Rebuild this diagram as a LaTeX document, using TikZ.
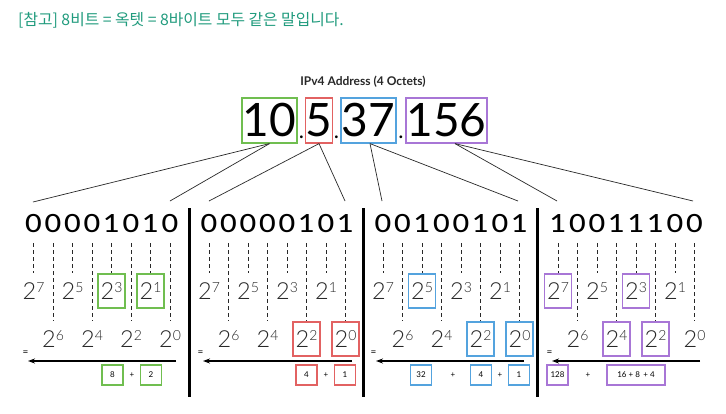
\documentclass[tikz,border=0pt]{standalone}
\usepackage{fontspec}
\setmainfont{Lato}
\newfontfamily\kr{Noto Sans CJK KR}
\newfontfamily\latolight{Lato Light}
\newfontfamily\latomed{Lato Medium}
\usetikzlibrary{arrows.meta}
\definecolor{cg}{RGB}{112,190,80}
\definecolor{cr}{RGB}{226,98,98}
\definecolor{cb}{RGB}{84,163,222}
\definecolor{cp}{RGB}{168,118,214}
\definecolor{teal}{RGB}{32,155,125}
\definecolor{ink}{RGB}{40,40,40}
\newcommand\pw[1]{{\latolight\fontsize{23.5}{24}\selectfont 2\raisebox{7pt}{\fontsize{14}{14}\selectfont #1}}}
\newcommand\wide[1]{\scalebox{1.15}[1]{#1}}
\tikzset{
  addr/.style={inner sep=0pt, minimum height=45pt, line width=1.2pt, font=\fontsize{46}{46}\selectfont},
  dotnode/.style={inner sep=0pt, anchor=base, font=\fontsize{22}{22}\selectfont},
  bit/.style={inner sep=0pt, font=\latomed\fontsize{25}{25}\selectfont},
  pow/.style={inner sep=0pt, minimum width=27pt, minimum height=34pt, line width=1.2pt, text=ink},
  dashline/.style={draw=ink, line width=0.8pt, dash pattern=on 4pt off 3pt},
  conn/.style={draw=ink, line width=0.7pt},
  sepline/.style={draw=black, line width=3pt},
  arr/.style={draw=black, line width=1.5pt, -{Stealth[length=7pt,width=5pt]}},
  eqs/.style={inner sep=0pt, font=\fontsize{10}{10}\selectfont},
  sumbox/.style={inner sep=0pt, minimum width=21pt, minimum height=20pt, line width=1.2pt, font=\fontsize{8}{8}\selectfont},
  plus/.style={inner sep=0pt, font=\fontsize{8}{8}\selectfont},
}
\begin{document}
\begin{tikzpicture}[x=1pt,y=-1pt]
\fill[white] (0,0) rectangle (726,413);
\useasboundingbox (0,0) rectangle (726,413);

\node[anchor=west, inner sep=0pt, text=teal, font=\kr\fontsize{15.8}{16}\selectfont] (note) at (18,20.5) {[참고] 8비트 = 옥텟 = 8바이트 모두 같은 말입니다.};

\node[font=\bfseries\fontsize{12}{12}\selectfont, text=ink, inner sep=0pt] (title) at (363,82) {IPv4 Address (4 Octets)};

\node[addr, draw=cg, minimum width=55pt] (a1) at (269.5,120.5) {10};
\node[addr, draw=cr, minimum width=26pt] (a2) at (319,120.5) {5};
\node[addr, draw=cb, minimum width=55pt] (a3) at (368.5,120.5) {37};
\node[addr, draw=cp, minimum width=81pt] (a4) at (446.5,120.5) {156};
\node[dotnode] (dt1) at (301.5,138) {.};
\node[dotnode] (dt2) at (336.5,138) {.};
\node[dotnode] (dt3) at (401,138) {.};

\coordinate (g1) at (33,202);  \coordinate (g2) at (170,201);
\coordinate (r1) at (209,201); \coordinate (r2) at (345,201);
\coordinate (b1) at (382,201); \coordinate (b2) at (518,201);
\coordinate (q1) at (557,201); \coordinate (q2) at (693,201);
\draw[conn] (a1.south) -- (g1);
\draw[conn] (a1.south) -- (g2);
\draw[conn] (a2.south) -- (r1);
\draw[conn] (a2.south) -- (r2);
\draw[conn] ([xshift=1.5pt]a3.south) -- (b1);
\draw[conn] ([xshift=1.5pt]a3.south) -- (b2);
\draw[conn] ([xshift=8.5pt]a4.south) -- (q1);
\draw[conn] ([xshift=8.5pt]a4.south) -- (q2);

\draw[sepline] (189,208) -- (189,397);
\draw[sepline] (363,208) -- (363,397);
\draw[sepline] (537,208) -- (537,397);

\foreach \oc/\xo/\bits/\col in {1/33.5/{0,0,0,0,1,0,1,0}/cg, 2/209/{0,0,0,0,0,1,0,1}/cr, 3/383/{0,0,1,0,0,1,0,1}/cb, 4/558/{1,0,0,1,1,1,0,0}/cp}{
  \foreach \bv [count=\k from 0] in \bits {
    \pgfmathsetmacro\xx{\xo+19.5*\k}
    \pgfmathtruncatemacro\ex{7-\k}
    \pgfmathtruncatemacro\od{mod(\k,2)}
    \ifnum\od=1 \def\yy{339}\else\def\yy{291}\fi
    \node[bit] (d\oc-\k) at (\xx,224) {\wide{\bv}};
    \ifnum\bv=1
      \node[pow,draw=\col] (p\oc-\k) at (\xx,\yy) {\pw{\ex}};
    \else
      \node[pow] (p\oc-\k) at (\xx,\yy) {\pw{\ex}};
    \fi
    \draw[dashline] ([yshift=-10pt]d\oc-\k.south) -- (p\oc-\k.north);
  }
}

\foreach \oc/\xa/\xb in {1/176/28, 2/352/203, 3/524/376, 4/700/552}{
  \node[eqs] (eq\oc) at (\xb-2.5,353) {=};
  \coordinate (as\oc) at (\xa,361);
  \coordinate (ae\oc) at (\xb,361);
  \draw[arr] (as\oc) -- (ae\oc);
}

\node[sumbox, draw=cg] (s1a) at (112.5,375) {8};
\node[plus] (s1p) at (132,375) {+};
\node[sumbox, draw=cg] (s1b) at (151,375) {2};

\node[sumbox, draw=cr] (s2a) at (306.5,375) {4};
\node[plus] (s2p) at (326,375) {+};
\node[sumbox, draw=cr] (s2b) at (345,375) {1};

\node[sumbox, draw=cb] (s3a) at (421,375) {32};
\node[plus] (s3p) at (453,375) {+};
\node[sumbox, draw=cb] (s3b) at (481,375) {4};
\node[plus] (s3q) at (500,375) {+};
\node[sumbox, draw=cb] (s3c) at (519,375) {1};

\node[sumbox, draw=cp] (s4a) at (557.5,375) {128};
\node[plus] (s4p) at (588,375) {+};
\node[sumbox, draw=cp, minimum width=58pt] (s4b) at (636,375) {16 + 8 \,+ 4};
\end{tikzpicture}
\end{document}
